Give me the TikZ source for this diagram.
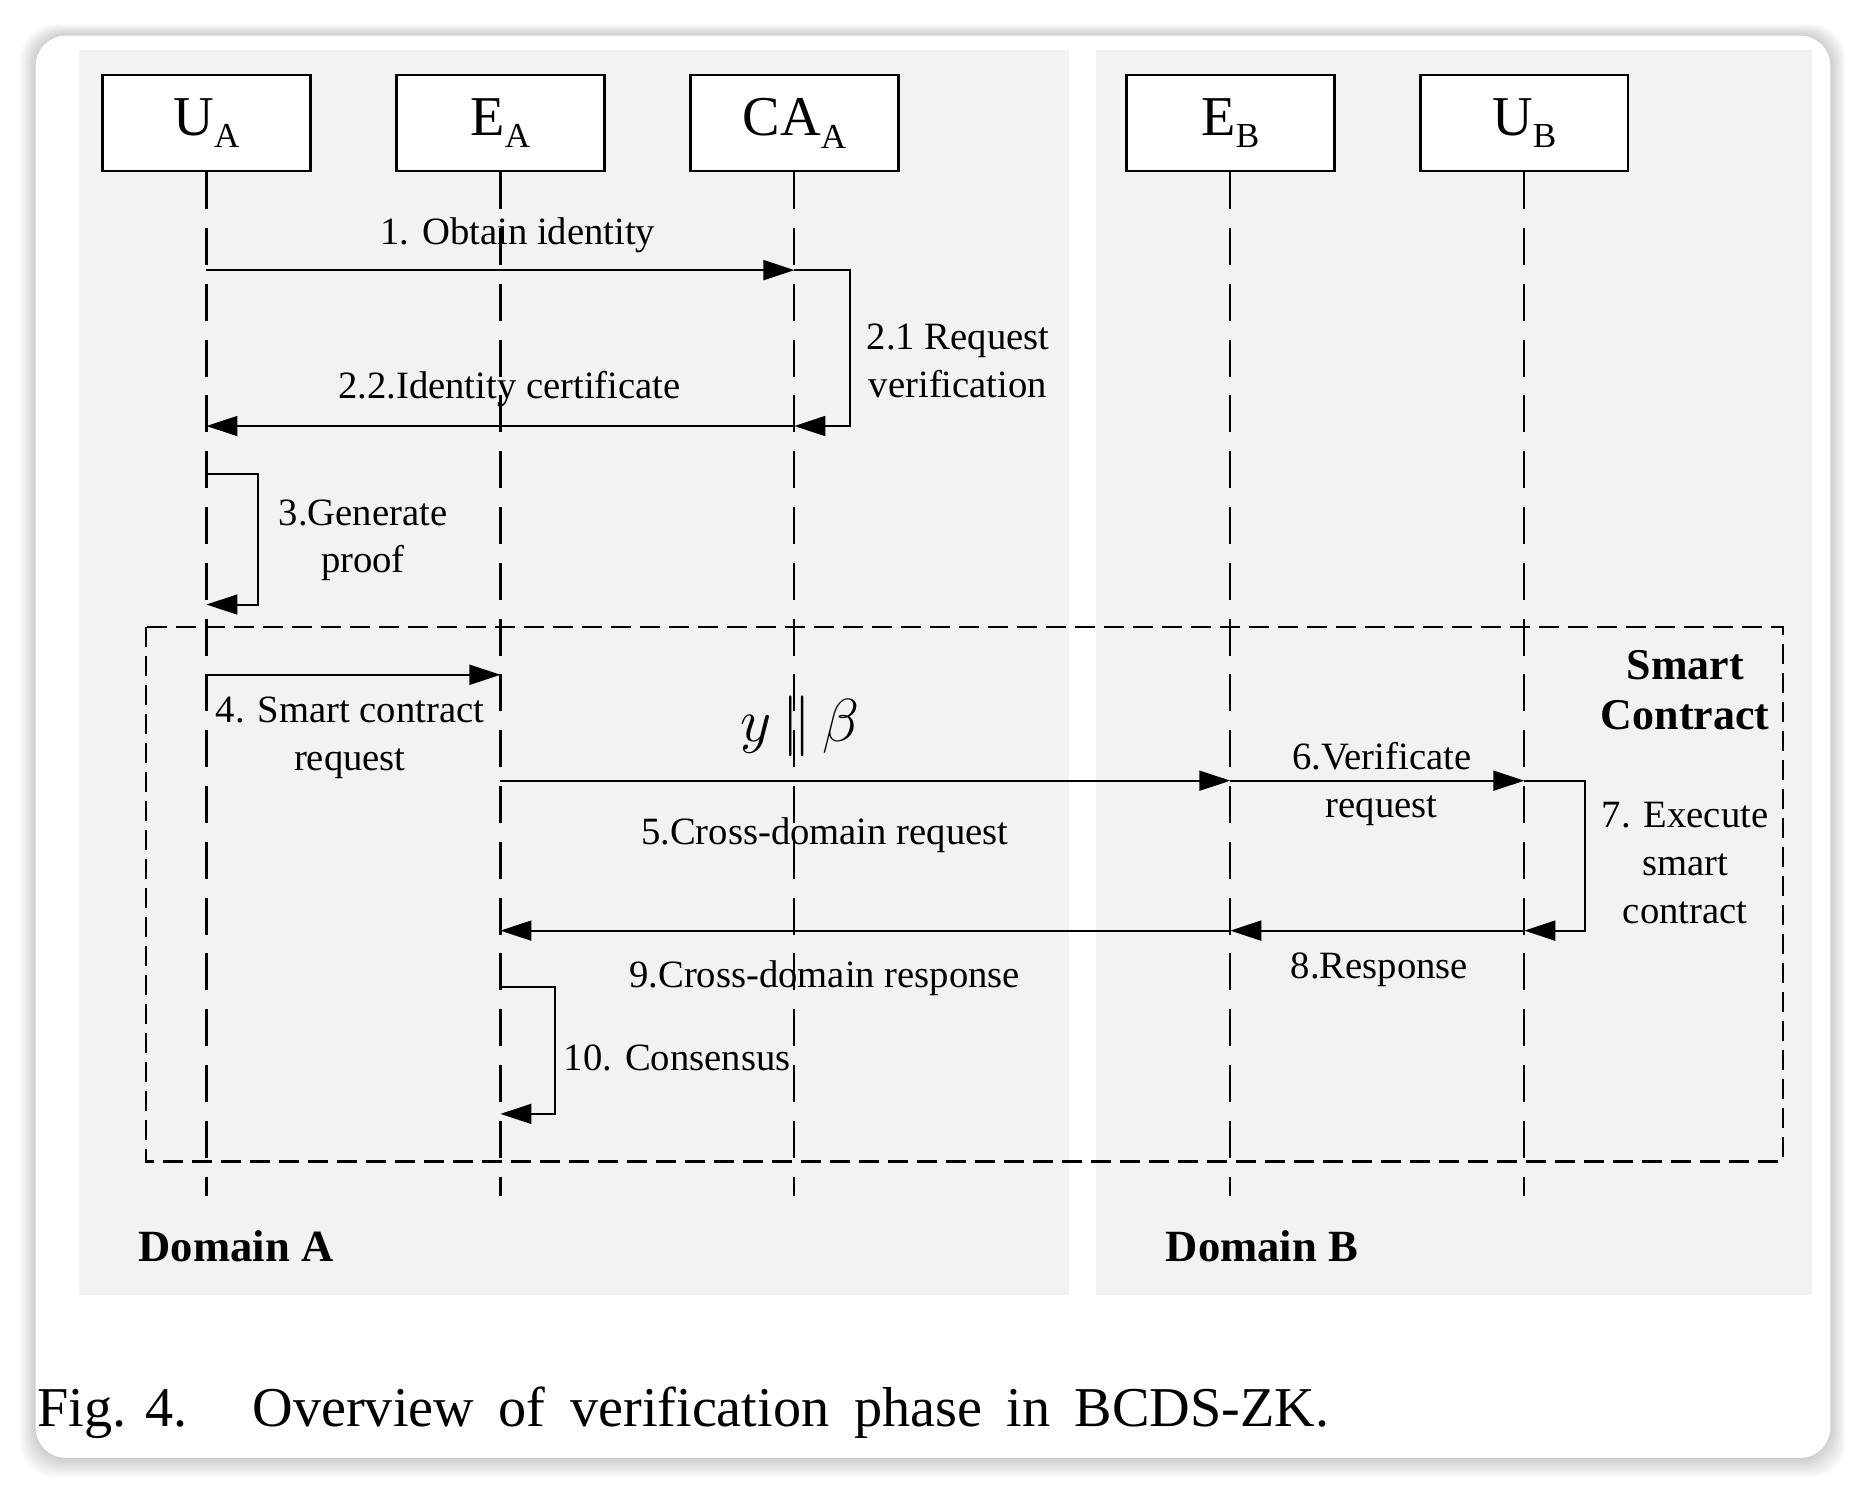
\documentclass[tikz,border=0pt]{standalone}
\usepackage{fontspec}
\setmainfont{Liberation Serif}
\usepackage{tikz}
\usetikzlibrary{arrows.meta, positioning}

\newcommand{\actorname}[2]{#1\raisebox{-3.6pt}{\fontsize{10}{11}\selectfont #2}}

\begin{document}
\begin{tikzpicture}[x=0.0119cm, y=-0.0119cm, node distance=2.94cm, on grid,
    actor/.style={draw, fill=white, line width=0.65pt, minimum width=2.08cm, minimum height=0.96cm, inner sep=0pt, font=\fontsize{16}{19}\selectfont},
    msg/.style={-{Triangle[length=0.31cm, width=0.2cm]}, line width=0.55pt},
    life/.style={line width=0.6pt, dash pattern=on 0.37cm off 0.188cm},
    scframe/.style={line width=0.6pt, dash pattern=on 0.2cm off 0.09cm},
    lbl/.style={font=\fontsize{11}{13.6}\selectfont, align=center, inner sep=1pt},
    dom/.style={font=\fontsize{12.7}{15}\selectfont\bfseries, inner sep=0pt},
    panel/.style={fill=black!5}]

  \useasboundingbox (0,0) rectangle (1568,1255);
  \fill[white] (0,0) rectangle (1568,1255);

  % card with soft shadow
  \foreach \i in {1,...,8}
    \fill[black, opacity=0.022, rounded corners=0.34cm] ({30-1.6*\i},{30-1.2*\i}) rectangle ({1538+1.6*\i},{1225+2*\i});
  \fill[white, rounded corners=0.3cm] (30,30) rectangle (1538,1225);

  % the two domains
  \fill[panel] (66,42) rectangle (898,1088);
  \fill[panel] (921,42) rectangle (1523,1088);

  % participants
  \node[actor] (ua) at (173.5,103.5) {\actorname{U}{A}};
  \node[actor, right=of ua] (ea) {\actorname{E}{A}};
  \node[actor, right=of ea] (caa) {\actorname{CA}{A}};
  \node[actor, right=4.36cm of caa] (eb) {\actorname{E}{B}};
  \node[actor, right=of eb] (ub) {\actorname{U}{B}};

  % rows
  \coordinate (bot) at (0,1005);
  \coordinate (r1) at (0,227);
  \coordinate (r2) at (0,358);
  \coordinate (r3a) at (0,398);
  \coordinate (r3b) at (0,508);
  \coordinate (r4) at (0,567);
  \coordinate (r5) at (0,656);
  \coordinate (r8) at (0,782);
  \coordinate (r10a) at (0,829);
  \coordinate (r10b) at (0,936);

  % lifelines
  \foreach \p in {ua,ea,caa,eb,ub}
    \draw[life] (\p.south) -- (\p.south |- bot);

  % smart contract frame
  \draw[scframe] (123,527) rectangle (1498,976);
  \node[dom, align=center, font=\fontsize{12.5}{14.4}\selectfont\bfseries] (sc) at (1416,580) {Smart\\Contract};

  % messages
  \draw[msg] (ua |- r1) -- (caa |- r1);
  \node[lbl] (m1) at (435,198) {1. Obtain identity};

  \draw[msg] (caa |- r1) -- ++(47,0) |- (caa |- r2);
  \node[lbl] (m21) at (805,303) {2.1 Request\\verification};

  \draw[msg] (caa |- r2) -- (ua |- r2);
  \node[lbl] (m22) at (428,327) {2.2.Identity certificate};

  \draw[msg] (ua |- r3a) -- ++(43,0) |- (ua |- r3b);
  \node[lbl] (m3) at (305,454) {3.Generate\\proof};

  \draw[msg] (ua |- r4) -- (ea |- r4);
  \node[lbl] (m4) at (294,620) {4. Smart contract\\request};

  \node[font=\fontsize{17}{20}\selectfont] (yb) at (672,610) {$y\,\|\,\beta$};

  \draw[msg] (ea |- r5) -- (eb |- r5);
  \node[lbl] (m5) at (693,702) {5.Cross-domain request};

  \draw[msg] (eb |- r5) -- (ub |- r5);
  \node[lbl] (m6) at (1161,659) {6.Verificate\\request};

  \draw[msg] (ub |- r5) -- ++(51,0) |- (ub |- r8);
  \node[lbl] (m7) at (1416,725) {7. Execute\\smart\\contract};

  \draw[msg] (ub |- r8) -- (eb |- r8);
  \node[lbl] (m8) at (1159,815) {8.Response};

  \draw[msg] (eb |- r8) -- (ea |- r8);
  \node[lbl] (m9) at (693,822) {9.Cross-domain response};

  \draw[msg] (ea |- r10a) -- ++(46,0) |- (ea |- r10b);
  \node[lbl] (m10) at (569,889) {10. Consensus};

  % domain names
  \node[dom, anchor=base west] (da) at (116,1060) {Domain A};
  \node[dom, anchor=base west] (db) at (979,1060) {Domain B};

  % caption
  \node[anchor=base west, inner sep=0pt, font=\fontsize{16}{19}\selectfont] (cap) at (31,1199)
    {\makebox[2.15cm][l]{Fig. 4.}\makebox[10.77cm][s]{Overview of verification phase in BCDS-ZK.}};
\end{tikzpicture}
\end{document}
